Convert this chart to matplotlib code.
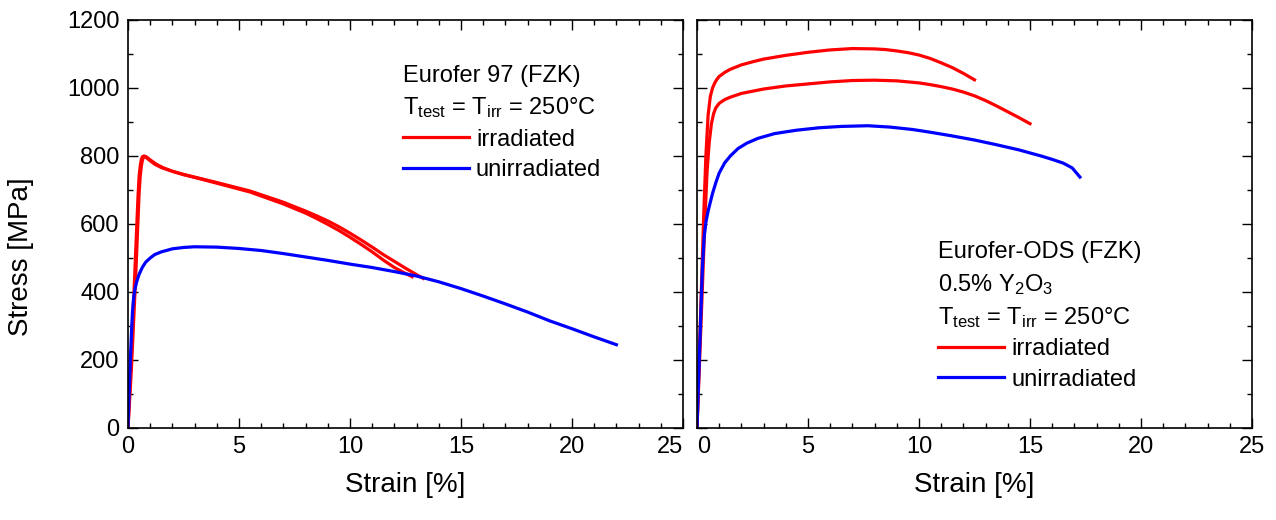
import matplotlib
matplotlib.use("Agg")
import matplotlib.pyplot as plt
from matplotlib.ticker import MultipleLocator

plt.rcParams['font.family'] = ['Liberation Sans', 'DejaVu Sans']
plt.rcParams['mathtext.fontset'] = 'custom'
plt.rcParams['mathtext.rm'] = 'Liberation Sans'
plt.rcParams['mathtext.it'] = 'Liberation Sans'

# Left panel: Eurofer 97 (FZK)
eu_irr_a_strain = [0, 0.1, 0.27, 0.45, 0.5, 0.55, 0.6, 0.65, 0.72, 0.8, 0.9, 1.0, 1.2, 1.5, 2, 2.5, 3, 4,
                   5.5, 7, 8, 8.5, 9, 9.5, 10, 10.5, 11, 11.5, 12, 12.5, 13, 13.3]
eu_irr_a_stress = [0, 150, 400, 680, 740, 770, 790, 798, 800, 797, 791, 786, 776, 766, 755, 746, 738, 722,
                   697, 664, 638, 624, 609, 592, 573, 553, 532, 510, 490, 470, 451, 440]
eu_irr_b_strain = [0, 0.15, 0.33, 0.5, 0.55, 0.6, 0.65, 0.7, 0.78, 0.86, 0.95, 1.1, 1.3, 1.6, 2, 2.5, 3, 4,
                   5.5, 7, 8, 8.5, 9, 9.5, 10, 10.5, 11, 11.5, 12, 12.4, 12.8]
eu_irr_b_stress = [0, 170, 420, 690, 740, 770, 788, 796, 799, 796, 791, 784, 775, 765, 755, 745, 737, 720,
                   694, 659, 632, 616, 599, 581, 561, 540, 518, 494, 472, 458, 445]
eu_unirr_strain = [0, 0.05, 0.1, 0.15, 0.2, 0.25, 0.3, 0.4, 0.5, 0.65, 0.8, 1.0, 1.2, 1.5, 2, 2.5, 3, 4, 5, 6,
                   7, 8, 9, 10, 11, 12, 13, 14, 15, 16, 17, 18, 19, 20, 21, 22]
eu_unirr_stress = [0, 100, 190, 270, 340, 380, 405, 432, 452, 473, 488, 500, 510, 518, 527, 531, 533, 532, 528, 522,
                   513, 503, 493, 482, 472, 460, 447, 430, 410, 388, 365, 341, 315, 292, 268, 245]

# Right panel: Eurofer-ODS (FZK)
ods_irr_a_strain = [0, 0.15, 0.3, 0.4, 0.5, 0.6, 0.7, 0.8, 0.9, 1.0, 1.25, 1.5, 2, 2.5, 3, 4, 5, 6, 7, 8,
                    8.5, 9, 9.5, 10, 10.5, 11, 11.5, 12, 12.5]
ods_irr_a_stress = [0, 310, 620, 800, 920, 975, 1000, 1015, 1026, 1034, 1046, 1055, 1068, 1077, 1085, 1096, 1105,
                    1112, 1116, 1115, 1113, 1109, 1104, 1097, 1087, 1074, 1060, 1043, 1024]
ods_irr_b_strain = [0, 0.2, 0.35, 0.45, 0.55, 0.65, 0.75, 0.85, 1.0, 1.25, 1.5, 2, 3, 4, 5, 6, 7, 8, 9, 10,
                    10.5, 11, 11.5, 12, 12.5, 13, 13.5, 14, 14.5, 15]
ods_irr_b_stress = [0, 340, 600, 750, 840, 895, 925, 942, 955, 966, 973, 984, 997, 1006, 1012, 1018, 1022, 1023,
                    1021, 1015, 1010, 1004, 997, 988, 977, 963, 947, 930, 913, 895]
ods_unirr_strain = [0, 0.1, 0.2, 0.25, 0.32, 0.4, 0.5, 0.6, 0.7, 0.85, 1.0, 1.25, 1.5, 1.85, 2.25, 2.75, 3.5, 4.5,
                    5.5, 6.5, 7.7, 8.7, 9.7, 10.5, 11.5, 12.5, 13.5, 14.5, 15.5, 16, 16.5, 16.9, 17.25]
ods_unirr_stress = [0, 195, 390, 480, 560, 605, 638, 664, 690, 722, 750, 780, 800, 822, 838, 852, 866, 876,
                    883, 887, 889, 885, 878, 870, 859, 847, 833, 818, 800, 790, 779, 765, 738]

strain_ticks = [0, 5, 10, 15, 20, 25]

RED = '#ff0000'
BLUE = '#0000ff'
LW = 2.3

fig = plt.figure(figsize=(12.76, 5.2), dpi=100)
ax1 = fig.add_axes([128 / 1276, 1 - 428 / 520, 555 / 1276, 408 / 520])
ax2 = fig.add_axes([697 / 1276, 1 - 428 / 520, 555 / 1276, 408 / 520])

for ax in (ax1, ax2):
    ax.set_xlim(0, 25)
    ax.set_ylim(0, 1200)
    ax.set_xticks(strain_ticks)
    ax.xaxis.set_minor_locator(MultipleLocator(1))
    ax.yaxis.set_major_locator(MultipleLocator(200))
    ax.yaxis.set_minor_locator(MultipleLocator(100))
    ax.tick_params(which='both', direction='in', top=True, right=True, width=1)
    ax.tick_params(which='major', length=7, labelsize=17, pad=6)
    ax.tick_params(which='minor', length=3.5)
    for sp in ax.spines.values():
        sp.set_linewidth(1.2)
    ax.set_xlabel('Strain [%]', fontsize=20, labelpad=10)

ax2.tick_params(labelleft=False)

ax1.plot(eu_irr_a_strain, eu_irr_a_stress, color=RED, lw=LW)
ax1.plot(eu_irr_b_strain, eu_irr_b_stress, color=RED, lw=LW, label='irradiated')
ax1.plot(eu_unirr_strain, eu_unirr_stress, color=BLUE, lw=LW, label='unirradiated')
ax1.set_ylabel('Stress [MPa]', fontsize=20)
ax1.yaxis.set_label_coords(-0.17, 0.42)

ax2.plot(ods_irr_a_strain, ods_irr_a_stress, color=RED, lw=LW)
ax2.plot(ods_irr_b_strain, ods_irr_b_stress, color=RED, lw=LW, label='irradiated')
ax2.plot(ods_unirr_strain, ods_unirr_stress, color=BLUE, lw=LW, label='unirradiated')

# keep the "25" and "0" labels apart where the two panels meet
ax1.xaxis.get_major_ticks()[-1].label1.set_horizontalalignment('right')
ax2.xaxis.get_major_ticks()[0].label1.set_horizontalalignment('left')

leg_kw = dict(frameon=False, fontsize=17, title_fontsize=17, handlelength=2.8,
              handletextpad=0.3, labelspacing=0.35, borderpad=0, borderaxespad=0,
              loc='upper left', alignment='left')
leg1 = ax1.legend(title='Eurofer 97 (FZK)\nT$_{\\rm test}$ = T$_{\\rm irr}$ = 250°C',
                  bbox_to_anchor=(0.495, 0.89), **leg_kw)
leg2 = ax2.legend(title='Eurofer-ODS (FZK)\n0.5% Y$_2$O$_3$\nT$_{\\rm test}$ = T$_{\\rm irr}$ = 250°C',
                  bbox_to_anchor=(0.434, 0.458), **leg_kw)
for leg in (leg1, leg2):
    leg.get_title().set_linespacing(1.45)

fig.savefig('out.png', dpi=100)
